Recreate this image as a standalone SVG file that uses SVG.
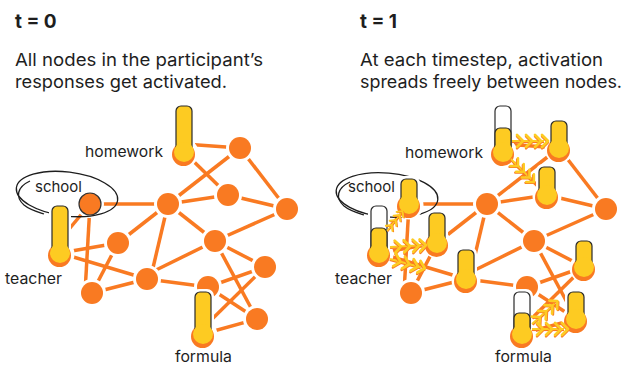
<svg xmlns="http://www.w3.org/2000/svg" xmlns:xlink="http://www.w3.org/1999/xlink" width="627" height="365" viewBox="0 0 627 365">
<style>
.e{stroke:#F97A22;stroke-width:3.5;fill:none}
.n{fill:#F97A22;stroke:#fff;stroke-width:6;paint-order:stroke}
.halo{fill:#fff}
.tube{fill:#FDCB22;stroke:#2a2a2a;stroke-width:1.2}
.empty{fill:#fff;stroke:#2a2a2a;stroke-width:1.2}
.bo{fill:#F97A22}
.by{fill:#FDCB22}
.h{font-family:Inter,"Liberation Sans",sans-serif;font-size:19px;font-weight:700;fill:#1e1e1e}
.d{font-family:Inter,"Liberation Sans",sans-serif;font-size:17.5px;fill:#1e1e1e}
.l{font-family:Inter,"Liberation Sans",sans-serif;font-size:15px;fill:#1e1e1e}
.ring{fill:none;stroke:#1e1e1e;stroke-width:1.3}
.cy{fill:none;stroke:#FDCB22;stroke-width:2.8;stroke-linecap:round;stroke-linejoin:round}
.co{fill:none;stroke:#F97A22;stroke-width:2.4;stroke-linecap:round;stroke-linejoin:round}
</style>
<defs>
<g id="chev">
<path class="co" d="M-5,-4.5 L1,1.5 L-5,7.5"/>
<path class="cy" d="M-5,-6 L1,0 L-5,6"/>
</g>
<g id="row">
<line x1="0" y1="1.2" x2="32" y2="1.2" stroke="#F97A22" stroke-width="1.8"/>
<line x1="0" y1="0" x2="32" y2="0" stroke="#FDCB22" stroke-width="2"/>
<use xlink:href="#chev" href="#chev" x="10"/>
<use xlink:href="#chev" href="#chev" x="19"/>
<use xlink:href="#chev" href="#chev" x="28"/>
<use xlink:href="#chev" href="#chev" x="35"/>
</g>
</defs>

<!-- headings -->
<g id="titles">
<text class="h" x="15" y="28">t = 0</text>
<text class="d" x="15" y="66" textLength="248" lengthAdjust="spacingAndGlyphs">All nodes in the participant’s</text>
<text class="d" x="15" y="88" textLength="212" lengthAdjust="spacingAndGlyphs">responses get activated.</text>
<text class="h" x="360" y="28">t = 1</text>
<text class="d" x="360" y="66" textLength="243" lengthAdjust="spacingAndGlyphs">At each timestep, activation</text>
<text class="d" x="360" y="88" textLength="262" lengthAdjust="spacingAndGlyphs">spreads freely between nodes.</text>
</g>

<!-- LEFT PANEL -->
<g id="edges-left">
<line class="e" x1="184" y1="144" x2="240" y2="148"/>
<line class="e" x1="184" y1="152" x2="228" y2="195"/>
<line class="e" x1="240" y1="148" x2="168" y2="204"/>
<line class="e" x1="240" y1="148" x2="287" y2="209"/>
<line class="e" x1="90" y1="204" x2="168" y2="204"/>
<line class="e" x1="168" y1="204" x2="228" y2="195"/>
<line class="e" x1="228" y1="195" x2="287" y2="209"/>
<line class="e" x1="168" y1="204" x2="118" y2="243"/>
<line class="e" x1="168" y1="204" x2="215" y2="241"/>
<line class="e" x1="168" y1="204" x2="152" y2="272"/>
<line class="e" x1="287" y1="209" x2="215" y2="241"/>
<line class="e" x1="215" y1="241" x2="152" y2="272"/>
<line class="e" x1="215" y1="241" x2="265" y2="267"/>
<line class="e" x1="215" y1="241" x2="257" y2="319"/>
<line class="e" x1="60" y1="253" x2="118" y2="243"/>
<line class="e" x1="60" y1="253" x2="147" y2="279"/>
<line class="e" x1="60" y1="240" x2="90" y2="204"/>
<line class="e" x1="90" y1="204" x2="85" y2="293"/>
<line class="e" x1="118" y1="243" x2="92" y2="293"/>
<line class="e" x1="92" y1="293" x2="147" y2="279"/>
<line class="e" x1="147" y1="279" x2="208" y2="287"/>
<line class="e" x1="208" y1="287" x2="257" y2="319"/>
<line class="e" x1="265" y1="267" x2="203" y2="328"/>
<line class="e" x1="208" y1="287" x2="265" y2="267"/>
<line class="e" x1="203" y1="334" x2="257" y2="319"/>
</g>

<g id="homework-left">
<rect class="halo" x="173" y="103" width="22" height="50" rx="7"/>
<circle class="halo" cx="184" cy="153" r="14.5"/>
<circle class="bo" cx="183.5" cy="154.5" r="11.5"/>
<rect class="tube" x="176" y="106" width="16" height="46" rx="5"/>
<circle class="by" cx="184" cy="152" r="10"/>
<text class="l" x="85" y="157" textLength="78" lengthAdjust="spacingAndGlyphs">homework</text>
</g>
<g id="n1-left"><circle class="n" cx="240" cy="148" r="11"/></g>
<g id="n2-left"><circle class="n" cx="228" cy="195" r="11"/></g>
<g id="n3-left"><circle class="n" cx="168" cy="204" r="11"/></g>
<g id="n4-left"><circle class="n" cx="287" cy="209" r="11"/></g>
<g id="n5-left"><circle class="n" cx="118" cy="243" r="11"/></g>
<g id="n6-left"><circle class="n" cx="215" cy="241" r="11"/></g>
<g id="n7-left"><circle class="n" cx="147" cy="279" r="11"/></g>
<g id="n8-left"><circle class="n" cx="265" cy="267" r="11"/></g>
<g id="n9-left"><circle class="n" cx="92" cy="293" r="11"/></g>
<g id="n10-left"><circle class="n" cx="208" cy="287" r="11"/></g>
<g id="n11-left"><circle class="n" cx="257" cy="319" r="11"/></g>

<g id="school-left">
<circle class="halo" cx="90" cy="204" r="14"/>
<ellipse class="ring" cx="67" cy="194" rx="51" ry="22" transform="rotate(7 67 194)"/>
<path class="ring" d="M30,181 C17,187 15,197 24,205 C30,210 38,212 44,214" stroke-width="0.9"/>
<circle cx="90" cy="204" r="11" fill="#F97A22" stroke="#333" stroke-width="1.2"/>
<text class="l" x="35" y="192" textLength="47" lengthAdjust="spacingAndGlyphs">school</text>
</g>

<g id="teacher-left">
<rect class="halo" x="49" y="203" width="22" height="50" rx="7"/>
<circle class="halo" cx="60" cy="254" r="14.5"/>
<circle class="bo" cx="59.5" cy="255.5" r="11.5"/>
<rect class="tube" x="52" y="206" width="16" height="47" rx="5"/>
<circle class="by" cx="60" cy="253" r="10"/>
<text class="l" x="5" y="284" textLength="57" lengthAdjust="spacingAndGlyphs">teacher</text>
</g>

<g id="formula-left">
<rect class="halo" x="192" y="289" width="22" height="45" rx="7"/>
<circle class="halo" cx="203" cy="335" r="14.5"/>
<circle class="bo" cx="202.5" cy="336.5" r="11.5"/>
<rect class="tube" x="195" y="292" width="16" height="42" rx="5"/>
<circle class="by" cx="203" cy="334" r="10"/>
<text class="l" x="175" y="362" textLength="57" lengthAdjust="spacingAndGlyphs">formula</text>
</g>

<!-- RIGHT PANEL -->
<g id="edges-right">
<line class="e" x1="503" y1="144" x2="559" y2="148"/>
<line class="e" x1="503" y1="152" x2="547" y2="195"/>
<line class="e" x1="559" y1="148" x2="487" y2="204"/>
<line class="e" x1="559" y1="148" x2="606" y2="209"/>
<line class="e" x1="409" y1="204" x2="487" y2="204"/>
<line class="e" x1="487" y1="204" x2="547" y2="195"/>
<line class="e" x1="547" y1="195" x2="606" y2="209"/>
<line class="e" x1="487" y1="204" x2="437" y2="243"/>
<line class="e" x1="487" y1="204" x2="534" y2="241"/>
<line class="e" x1="487" y1="204" x2="471" y2="272"/>
<line class="e" x1="606" y1="209" x2="534" y2="241"/>
<line class="e" x1="534" y1="241" x2="471" y2="272"/>
<line class="e" x1="534" y1="241" x2="584" y2="267"/>
<line class="e" x1="534" y1="241" x2="576" y2="319"/>
<line class="e" x1="379" y1="253" x2="437" y2="243"/>
<line class="e" x1="379" y1="253" x2="466" y2="279"/>
<line class="e" x1="379" y1="240" x2="409" y2="204"/>
<line class="e" x1="409" y1="204" x2="404" y2="293"/>
<line class="e" x1="437" y1="243" x2="411" y2="293"/>
<line class="e" x1="411" y1="293" x2="466" y2="279"/>
<line class="e" x1="466" y1="279" x2="527" y2="287"/>
<line class="e" x1="527" y1="287" x2="576" y2="319"/>
<line class="e" x1="584" y1="267" x2="522" y2="328"/>
<line class="e" x1="527" y1="287" x2="584" y2="267"/>
<line class="e" x1="522" y1="334" x2="576" y2="319"/>
</g>

<g id="n3-right"><circle class="n" cx="487" cy="204" r="11"/></g>
<g id="n4-right"><circle class="n" cx="606" cy="209" r="11"/></g>
<g id="n6-right"><circle class="n" cx="534" cy="241" r="11"/></g>
<g id="n9-right"><circle class="n" cx="411" cy="293" r="11"/></g>
<g id="n10-right"><circle class="n" cx="527" cy="287" r="11"/></g>

<g id="n1-right">
<rect class="halo" x="548" y="118" width="22" height="30" rx="7"/>
<circle class="halo" cx="559" cy="149" r="14.5"/>
<circle class="bo" cx="558.5" cy="150.5" r="11.5"/>
<rect class="tube" x="551" y="121" width="16" height="27" rx="5"/>
<circle class="by" cx="559" cy="148" r="10"/>
</g>
<g id="n2-right">
<rect class="halo" x="536" y="164" width="22" height="31" rx="7"/>
<circle class="halo" cx="547" cy="196" r="14.5"/>
<circle class="bo" cx="546.5" cy="197.5" r="11.5"/>
<rect class="tube" x="539" y="167" width="16" height="28" rx="5"/>
<circle class="by" cx="547" cy="195" r="10"/>
</g>
<g id="n5-right">
<rect class="halo" x="426" y="210" width="22" height="33" rx="7"/>
<circle class="halo" cx="437" cy="244" r="14.5"/>
<circle class="bo" cx="436.5" cy="245.5" r="11.5"/>
<rect class="tube" x="429" y="213" width="16" height="30" rx="5"/>
<circle class="by" cx="437" cy="243" r="10"/>
</g>
<g id="n7-right">
<rect class="halo" x="455" y="247" width="22" height="32" rx="7"/>
<circle class="halo" cx="466" cy="280" r="14.5"/>
<circle class="bo" cx="465.5" cy="281.5" r="11.5"/>
<rect class="tube" x="458" y="250" width="16" height="29" rx="5"/>
<circle class="by" cx="466" cy="279" r="10"/>
</g>
<g id="n8-right">
<rect class="halo" x="573" y="238" width="22" height="29" rx="7"/>
<circle class="halo" cx="584" cy="268" r="14.5"/>
<circle class="bo" cx="583.5" cy="269.5" r="11.5"/>
<rect class="tube" x="576" y="241" width="16" height="26" rx="5"/>
<circle class="by" cx="584" cy="267" r="10"/>
</g>
<g id="n11-right">
<rect class="halo" x="565" y="289" width="22" height="30" rx="7"/>
<circle class="halo" cx="576" cy="320" r="14.5"/>
<circle class="bo" cx="575.5" cy="321.5" r="11.5"/>
<rect class="tube" x="568" y="292" width="16" height="27" rx="5"/>
<circle class="by" cx="576" cy="319" r="10"/>
</g>

<g id="homework-right">
<rect class="halo" x="492" y="103" width="22" height="50" rx="7"/>
<circle class="halo" cx="503" cy="153" r="14.5"/>
<circle class="bo" cx="502.5" cy="154.5" r="11.5"/>
<rect class="empty" x="495" y="106" width="16" height="46" rx="5"/>
<rect class="tube" x="495" y="128" width="16" height="24" rx="5"/>
<circle class="by" cx="503" cy="152" r="10"/>
<text class="l" x="405" y="158" textLength="78" lengthAdjust="spacingAndGlyphs">homework</text>
</g>

<g id="school-right">
<ellipse class="ring" cx="387" cy="195" rx="51" ry="22" transform="rotate(5 387 195)"/>
<path class="ring" d="M350,182 C337,188 335,198 344,206 C350,211 358,213 364,215" stroke-width="0.9"/>
<rect class="halo" x="398" y="176" width="22" height="28" rx="7"/>
<circle class="halo" cx="409" cy="205" r="14.5"/>
<circle class="bo" cx="408.5" cy="206.5" r="11.5"/>
<rect class="tube" x="401" y="179" width="16" height="25" rx="5"/>
<circle class="by" cx="409" cy="204" r="10"/>
<text class="l" x="348" y="192" textLength="47" lengthAdjust="spacingAndGlyphs">school</text>
</g>

<g id="teacher-right">
<rect class="halo" x="368" y="203" width="22" height="50" rx="7"/>
<circle class="halo" cx="379" cy="254" r="14.5"/>
<circle class="bo" cx="378.5" cy="255.5" r="11.5"/>
<rect class="empty" x="371" y="206" width="16" height="47" rx="5"/>
<rect class="tube" x="371" y="228" width="16" height="25" rx="5"/>
<circle class="by" cx="379" cy="253" r="10"/>
<text class="l" x="335" y="284" textLength="57" lengthAdjust="spacingAndGlyphs">teacher</text>
</g>

<g id="formula-right">
<rect class="halo" x="511" y="289" width="22" height="45" rx="7"/>
<circle class="halo" cx="522" cy="335" r="14.5"/>
<circle class="bo" cx="521.5" cy="336.5" r="11.5"/>
<rect class="empty" x="514" y="292" width="16" height="42" rx="5"/>
<rect class="tube" x="514" y="313" width="16" height="21" rx="5"/>
<circle class="by" cx="522" cy="334" r="10"/>
<text class="l" x="495" y="362" textLength="57" lengthAdjust="spacingAndGlyphs">formula</text>
</g>

<g id="spread-arrows">
<use xlink:href="#row" href="#row" transform="translate(512,141)"/>
<use xlink:href="#row" href="#row" transform="translate(511,159) rotate(45) scale(0.9)"/>
<use xlink:href="#row" href="#row" transform="translate(387,231) rotate(-52) scale(0.7)"/>
<use xlink:href="#row" href="#row" transform="translate(390,247) rotate(-3)"/>
<use xlink:href="#row" href="#row" transform="translate(390,259) rotate(15)"/>
<use xlink:href="#row" href="#row" transform="translate(532,324) rotate(-42) scale(0.95)"/>
<use xlink:href="#row" href="#row" transform="translate(532,329)"/>
</g>
</svg>
